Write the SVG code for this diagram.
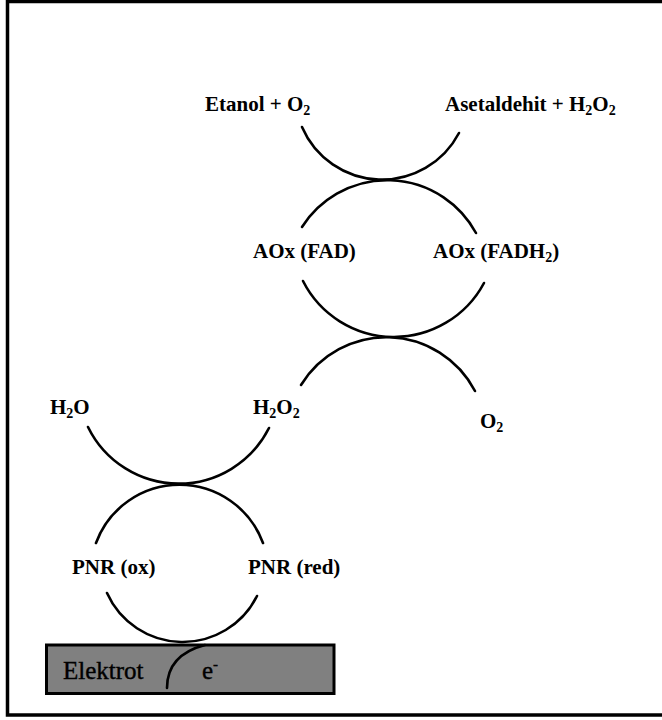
<svg xmlns="http://www.w3.org/2000/svg" width="662" height="720" viewBox="0 0 662 720">
  <style>
    .arc { fill: none; stroke: #000; stroke-width: 2.6; stroke-linecap: round; }
    .lbl { font-size: 21px; font-weight: bold; fill: #000; }
    .sub { font-size: 14px; }
    .el { font-size: 25px; fill: #000; stroke: #000; stroke-width: 0.4; }
  </style>

  <!-- outer frame (right edge runs off the canvas) -->
  <rect x="0" y="0" width="662" height="720" fill="#fff"/>
  <rect x="7.5" y="1.5" width="700" height="713.5" fill="none" stroke="#000" stroke-width="3.5"/>

  <g font-family="'Liberation Serif', 'Times New Roman', 'DejaVu Serif', serif">
    <!-- electrode bar -->
    <g id="electrode">
      <rect x="46.5" y="645" width="287.5" height="48.5" fill="#808080" stroke="#000" stroke-width="3"/>
      <text class="el" x="63" y="679">Elektrot</text>
      <text class="el" x="202" y="679">e<tspan font-size="15" dy="-10">-</tspan></text>
    </g>

    <!-- substrate / product labels -->
    <g id="etanol"><text class="lbl" x="205" y="111">Etanol + O<tspan class="sub" dy="4">2</tspan></text></g>
    <g id="asetaldehit"><text class="lbl" x="445" y="111">Asetaldehit + H<tspan class="sub" dy="4">2</tspan><tspan dy="-4">O</tspan><tspan class="sub" dy="4">2</tspan></text></g>
    <g id="aox-fad"><text class="lbl" x="253" y="258">AOx (FAD)</text></g>
    <g id="aox-fadh2"><text class="lbl" x="433" y="258">AOx (FADH<tspan class="sub" dy="4">2</tspan><tspan dy="-4">)</tspan></text></g>
    <g id="h2o2"><text class="lbl" x="253" y="414">H<tspan class="sub" dy="4">2</tspan><tspan dy="-4">O</tspan><tspan class="sub" dy="4">2</tspan></text></g>
    <g id="o2"><text class="lbl" x="480" y="428">O<tspan class="sub" dy="4">2</tspan></text></g>
    <g id="h2o"><text class="lbl" x="50" y="414">H<tspan class="sub" dy="4">2</tspan><tspan dy="-4">O</tspan></text></g>
    <g id="pnr-ox"><text class="lbl" x="72" y="574">PNR (ox)</text></g>
    <g id="pnr-red"><text class="lbl" x="248" y="574">PNR (red)</text></g>
  </g>

  <!-- coupled reaction arcs -->
  <g id="connectors">
    <!-- ethanol oxidation -->
    <path class="arc" d="M302,127 A87,87 0 0 0 459,133"/>
    <!-- AOx cycle -->
    <path class="arc" d="M302,227 A101,101 0 0 1 476,233"/>
    <path class="arc" d="M303,281 A102,102 0 0 0 484,283"/>
    <!-- H2O2 / O2 -->
    <path class="arc" d="M301,385 A100,100 0 0 1 475,391"/>
    <!-- H2O / H2O2 -->
    <path class="arc" d="M88,427 A101,101 0 0 0 269,428"/>
    <!-- PNR cycle -->
    <path class="arc" d="M96,543 A89,89 0 0 1 263,543"/>
    <path class="arc" d="M107,593 A83,83 0 0 0 257,596"/>
    <!-- electron transfer into the electrode -->
    <path class="arc" d="M167,688 C167,668 178,652 205,645"/>
  </g>
</svg>
